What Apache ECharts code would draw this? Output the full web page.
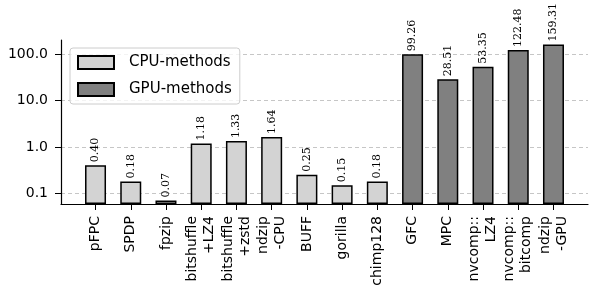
<!DOCTYPE html>
<html>
<head>
    <meta charset="utf-8">
    <script src="https://cdn.jsdelivr.net/npm/echarts@6/dist/echarts.min.js"></script>
</head>
<body style="margin:0">
    <div id="main" style="width: 589px;height:292px;"></div>
    <script type="text/javascript">
        // categories (x tick labels)
        var names = ['pFPC', 'SPDP', 'fpzip', 'bitshuffle\n+LZ4', 'bitshuffle\n+zstd', 'ndzip\n-CPU',
            'BUFF', 'gorilla', 'chimp128', 'GFC', 'MPC', 'nvcomp::\nLZ4', 'nvcomp::\nbitcomp', 'ndzip\n-GPU'];
        var cpuValues = [0.40, 0.18, 0.07, 1.18, 1.33, 1.64, 0.25, 0.15, 0.18];
        var gpuValues = [99.26, 28.51, 53.35, 122.48, 159.31];
        var yTicks = [0.1, 1, 10, 100];
        var yMin = 0.0589, yMax = 200;

        var positions = names.map(function (n, i) { return i; });
        var cpuData = cpuValues.map(function (v, i) { return [i, v]; });
        var gpuData = gpuValues.map(function (v, i) { return [i + cpuValues.length, v]; });

        var valueLabel = {
            show: true,
            position: 'top',
            rotate: 90,
            align: 'left',
            verticalAlign: 'middle',
            distance: 3,
            fontFamily: 'DejaVu Serif',
            fontSize: 11,
            color: '#000',
            formatter: function (p) { return p.value[1].toFixed(2); }
        };

        var myChart = echarts.init(document.getElementById('main'));
        var option = {
            animation: false,
            textStyle: { fontFamily: 'DejaVu Sans' },
            grid: { left: 61, right: 1, top: 40, bottom: 88 },
            legend: {
                orient: 'vertical',
                left: 70,
                top: 48,
                itemWidth: 36,
                itemHeight: 13,
                itemGap: 12,
                padding: [7, 8, 7, 7],
                backgroundColor: 'rgba(255,255,255,0.8)',
                borderColor: '#ccc',
                borderWidth: 1,
                borderRadius: 3,
                icon: 'rect',
                textStyle: { fontSize: 15, color: '#000', padding: [0, 0, 0, 10] },
                data: ['CPU-methods', 'GPU-methods']
            },
            xAxis: {
                type: 'value',
                min: -0.98,
                max: 13.98,
                splitLine: { show: false },
                axisLine: { onZero: false, lineStyle: { color: '#000', width: 1.2 } },
                axisTick: { show: true, length: 6, customValues: positions, lineStyle: { color: '#000' } },
                axisLabel: {
                    customValues: positions,
                    rotate: 90,
                    margin: 12,
                    fontSize: 14,
                    lineHeight: 17,
                    color: '#000',
                    formatter: function (v) { return names[Math.round(v)]; }
                }
            },
            yAxis: {
                type: 'log',
                logBase: 10,
                min: yMin,
                max: yMax,
                startValue: yMin,
                axisLine: { show: true, onZero: false, lineStyle: { color: '#000', width: 1.2 } },
                axisTick: { show: true, length: 6, customValues: yTicks, lineStyle: { color: '#000' } },
                minorTick: { show: false },
                splitLine: {
                    show: true,
                    lineStyle: { color: '#b8b8b8', type: [4, 3], width: 0.8 }
                },
                axisLabel: {
                    customValues: yTicks,
                    margin: 13,
                    fontSize: 14,
                    color: '#000',
                    formatter: function (v) { return Number(v).toFixed(1); }
                }
            },
            series: [{
                name: 'CPU-methods',
                type: 'bar',
                barWidth: 21,
                barGap: '-100%',
                data: cpuData,
                itemStyle: { color: '#d3d3d3', borderColor: '#000', borderWidth: 1.5 },
                label: valueLabel
            }, {
                name: 'GPU-methods',
                type: 'bar',
                barWidth: 21,
                barGap: '-100%',
                data: gpuData,
                itemStyle: { color: '#808080', borderColor: '#000', borderWidth: 1.5 },
                label: valueLabel
            }]
        };
        myChart.setOption(option);
    </script>
</body>
</html>
